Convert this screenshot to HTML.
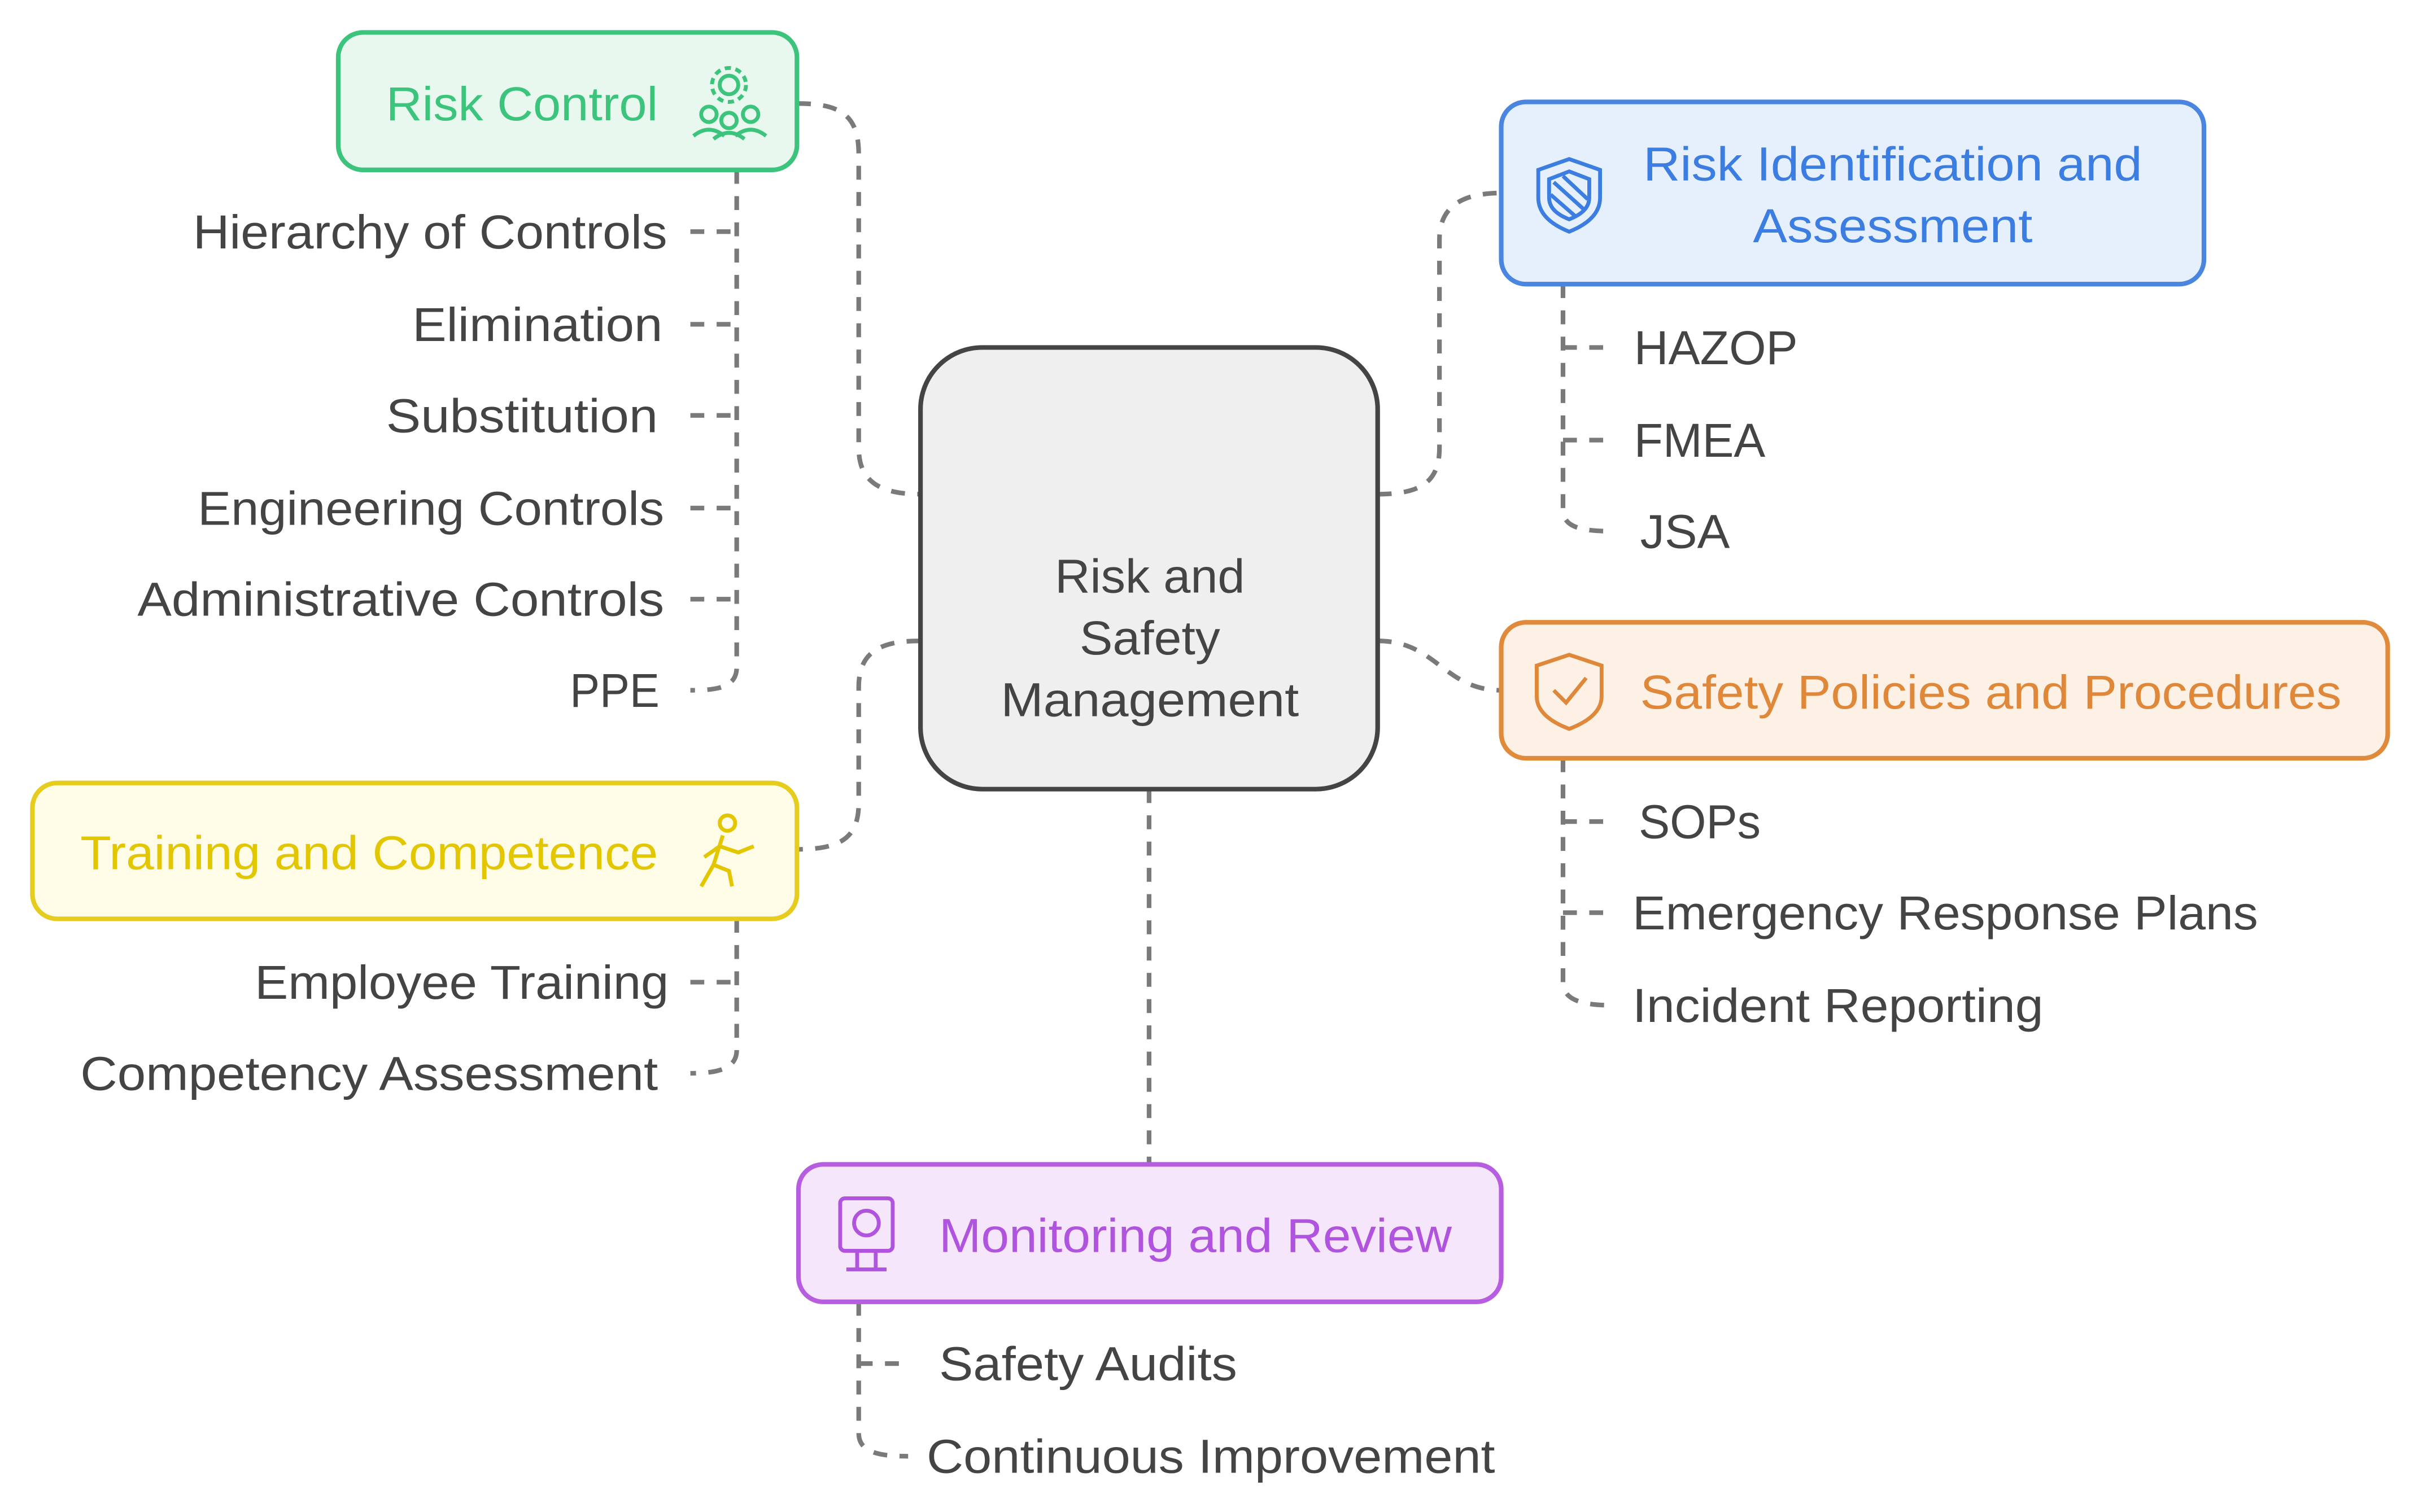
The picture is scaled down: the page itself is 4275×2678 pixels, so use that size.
<!DOCTYPE html>
<html><head><meta charset="utf-8"><style>
html,body{margin:0;padding:0;background:#fff;}
svg{display:block;}
text{font-family:"Liberation Sans",sans-serif;font-size:31px;fill:#444;dominant-baseline:central;}
.d{fill:none;stroke:#7a7a7a;stroke-width:3;stroke-dasharray:9 8;}
</style></head><body>
<svg width="4275" height="2678" viewBox="0 0 1563 979.1" xmlns="http://www.w3.org/2000/svg">
<path class="d" d="M516 67 C545 67 556 75 556 100 L556 290 C556 312 570 320 596 320"/>
<path class="d" d="M892 320 C920 320 932 312 932 290 L932 155 C932 135 945 125 972 125"/>
<path class="d" d="M892 415 C930 415 935 447 972 447"/>
<path class="d" d="M596 415 C570 415 556 422 556 445 L556 520 C556 542 545 550 516 550"/>
<path class="d" d="M744 511 L744 754"/>
<path class="d" d="M477 110 L477 432 C477 445 465 447 447 447"/>
<path class="d" d="M447 150 H477 M447 210 H477 M447 269 H477 M447 329 H477 M447 388 H477"/>
<path class="d" d="M1012 184 L1012 330 C1012 342 1025 344 1045 344"/>
<path class="d" d="M1012 225 H1045 M1012 285 H1045"/>
<path class="d" d="M1012 491 L1012 636 C1012 648 1025 651 1045 651"/>
<path class="d" d="M1012 532 H1045 M1012 591 H1045"/>
<path class="d" d="M477 595 L477 680 C477 692 465 695 447 695"/>
<path class="d" d="M447 636 H477"/>
<path class="d" d="M556 843 L556 928 C556 940 568 943 588 943"/>
<path class="d" d="M556 883 H590"/>
<rect x="596" y="225" width="296" height="286" rx="40" fill="#efefef" stroke="#444" stroke-width="3"/>
<text x="683" y="373" textLength="123" lengthAdjust="spacingAndGlyphs">Risk and</text>
<text x="699" y="413" textLength="91" lengthAdjust="spacingAndGlyphs">Safety</text>
<text x="648" y="453" textLength="193" lengthAdjust="spacingAndGlyphs">Management</text>
<rect x="219" y="21" width="297" height="89" rx="16" fill="#e8f8ef" stroke="#3cc47c" stroke-width="3"/>
<text x="250" y="67" style="fill:#3cc47c" textLength="176" lengthAdjust="spacingAndGlyphs">Risk Control</text>
<g fill="none" stroke="#3cc47c" stroke-width="2.5">
<circle cx="472" cy="55" r="6"/><circle cx="472" cy="55" r="11" stroke-dasharray="4 3"/>
<circle cx="459" cy="74" r="5"/><circle cx="472" cy="78" r="5"/><circle cx="486" cy="74" r="5"/>
<path d="M449 88 Q459 80 469 88 M462 90 Q472 82 482 90 M476 88 Q486 80 496 88"/>
</g>
<text x="125" y="150" textLength="307" lengthAdjust="spacingAndGlyphs">Hierarchy of Controls</text>
<text x="267" y="210" textLength="162" lengthAdjust="spacingAndGlyphs">Elimination</text>
<text x="250" y="269" textLength="176" lengthAdjust="spacingAndGlyphs">Substitution</text>
<text x="128" y="329" textLength="302" lengthAdjust="spacingAndGlyphs">Engineering Controls</text>
<text x="89" y="388" textLength="341" lengthAdjust="spacingAndGlyphs">Administrative Controls</text>
<text x="369" y="447" textLength="58" lengthAdjust="spacingAndGlyphs">PPE</text>
<rect x="972" y="66" width="455" height="118" rx="16" fill="#e6effc" stroke="#4a86e0" stroke-width="3"/>
<text x="1064" y="106" style="fill:#3b7de0" textLength="323" lengthAdjust="spacingAndGlyphs">Risk Identification and</text>
<text x="1135" y="146" style="fill:#3b7de0" textLength="181" lengthAdjust="spacingAndGlyphs">Assessment</text>
<g fill="none" stroke="#3b7de0" stroke-width="2.5">
<path d="M1016 103 L1036 110 L1036 128 Q1036 142 1016 150 Q996 142 996 128 L996 110 Z"/>
<path d="M1016 111 L1029 116 L1029 128 Q1029 137 1016 142 Q1003 137 1003 128 L1003 116 Z"/>
<path d="M1006 118 L1026 136 M1004 126 L1020 140 M1012 114 L1028 129"/>
</g>
<text x="1058" y="225" textLength="106" lengthAdjust="spacingAndGlyphs">HAZOP</text>
<text x="1058" y="285" textLength="85" lengthAdjust="spacingAndGlyphs">FMEA</text>
<text x="1062" y="344" textLength="58" lengthAdjust="spacingAndGlyphs">JSA</text>
<rect x="972" y="403" width="574" height="88" rx="16" fill="#fdf0e4" stroke="#e08a3c" stroke-width="3"/>
<text x="1062" y="448" style="fill:#e0883a" textLength="454" lengthAdjust="spacingAndGlyphs">Safety Policies and Procedures</text>
<g fill="none" stroke="#e0883a" stroke-width="2.5">
<path d="M1016 424 L1037 431 L1037 451 Q1037 464 1016 472 Q995 464 995 451 L995 431 Z"/>
<path d="M1006 447 L1014 455 L1027 439"/>
</g>
<text x="1061" y="532" textLength="79" lengthAdjust="spacingAndGlyphs">SOPs</text>
<text x="1057" y="591" textLength="405" lengthAdjust="spacingAndGlyphs">Emergency Response Plans</text>
<text x="1057" y="651" textLength="266" lengthAdjust="spacingAndGlyphs">Incident Reporting</text>
<rect x="21" y="507" width="495" height="88" rx="16" fill="#fefbe6" stroke="#e6cc1e" stroke-width="3"/>
<text x="52" y="552" style="fill:#e2c600" textLength="374" lengthAdjust="spacingAndGlyphs">Training and Competence</text>
<g fill="none" stroke="#e2c600" stroke-width="2.5">
<circle cx="471" cy="533" r="5"/>
<path d="M468 541 L462 560 L454 574 M462 560 L472 564 L474 574 M466 548 L478 552 L488 548 M466 548 L456 555"/>
</g>
<text x="165" y="636" textLength="268" lengthAdjust="spacingAndGlyphs">Employee Training</text>
<text x="52" y="695" textLength="374" lengthAdjust="spacingAndGlyphs">Competency Assessment</text>
<rect x="517" y="754" width="455" height="89" rx="16" fill="#f6e6fb" stroke="#b65de0" stroke-width="3"/>
<text x="608" y="800" style="fill:#b054e0" textLength="332" lengthAdjust="spacingAndGlyphs">Monitoring and Review</text>
<g fill="none" stroke="#b054e0" stroke-width="2.5">
<rect x="544" y="776" width="34" height="34" rx="3"/>
<circle cx="561" cy="792" r="8"/>
<path d="M555 810 V822 M567 810 V822 M548 822 H574"/>
</g>
<text x="608" y="883" textLength="193" lengthAdjust="spacingAndGlyphs">Safety Audits</text>
<text x="600" y="943" textLength="368" lengthAdjust="spacingAndGlyphs">Continuous Improvement</text>
</svg>
</body></html>
